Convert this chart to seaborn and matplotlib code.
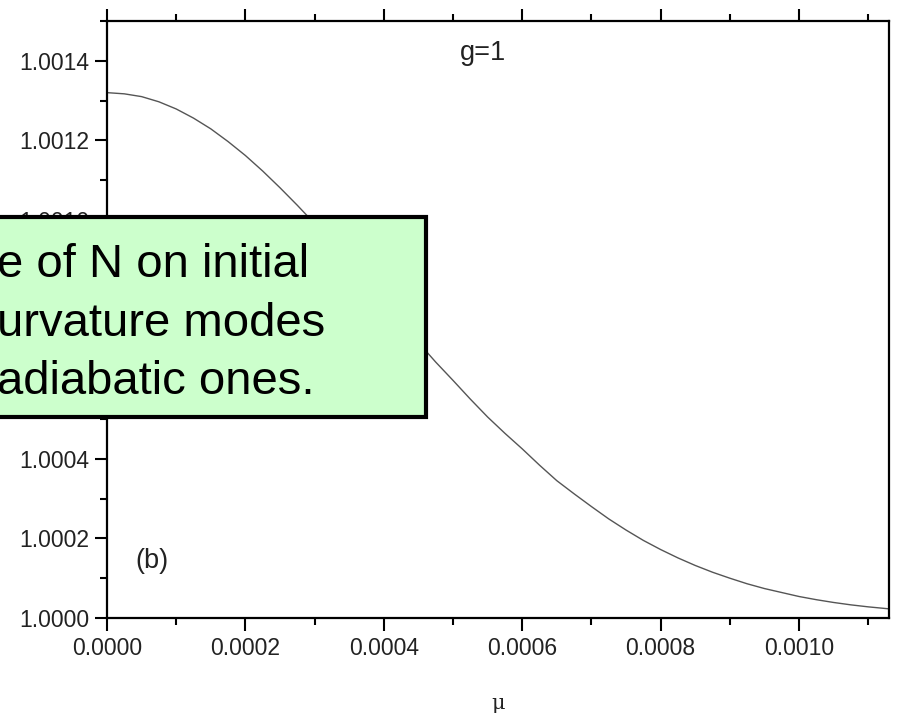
import numpy as np
import pandas as pd
import matplotlib
matplotlib.use("Agg")
import matplotlib.pyplot as plt
from matplotlib.patches import Rectangle
from matplotlib.ticker import MultipleLocator, FormatStrFormatter
import seaborn as sns

# Data
mu = [0.0, 0.000025, 0.00005, 0.000075, 0.0001, 0.000125, 0.00015, 0.000175,
      0.0002, 0.000225, 0.00025, 0.000275, 0.0003, 0.000325, 0.00035, 0.000375,
      0.0004, 0.000425, 0.00045, 0.000475, 0.0005, 0.000525, 0.00055, 0.000575,
      0.0006, 0.000625, 0.00065, 0.000675, 0.0007, 0.000725, 0.00075, 0.000775,
      0.0008, 0.000825, 0.00085, 0.000875, 0.0009, 0.000925, 0.00095, 0.000975,
      0.001, 0.001025, 0.00105, 0.001075, 0.0011, 0.00113]
N_ratio = [1.001320, 1.001317, 1.001310, 1.001297, 1.001279, 1.001256, 1.001229,
           1.001197, 1.001162, 1.001123, 1.001081, 1.001037, 1.000991, 1.000943,
           1.000893, 1.000843, 1.000793, 1.000742, 1.000692, 1.000643, 1.000597,
           1.000550, 1.000505, 1.000464, 1.000425, 1.000384, 1.000345, 1.000312,
           1.000280, 1.000249, 1.000221, 1.000195, 1.000172, 1.000151, 1.000132,
           1.000115, 1.000100, 1.000086, 1.000074, 1.000064, 1.000054, 1.000046,
           1.000039, 1.000033, 1.000028, 1.000023]
xticks = [0.0, 0.0002, 0.0004, 0.0006, 0.0008, 0.0010]
yticks = [1.0000, 1.0002, 1.0004, 1.0006, 1.0008, 1.0010, 1.0012, 1.0014]
box_lines = ["e of N on initial", "urvature modes", "adiabatic ones."]

df = pd.DataFrame({"mu": mu, "N": N_ratio})

sns.set_theme(style="ticks")
plt.rcParams["font.family"] = ["Liberation Sans", "DejaVu Sans"]

W, H = 899, 719
fig = plt.figure(figsize=(W / 100, H / 100), dpi=100)
ax = fig.add_axes([107 / W, 1 - 618 / H, (889 - 107) / W, (618 - 21) / H])

sns.lineplot(data=df, x="mu", y="N", ax=ax, color="#555555", linewidth=1.0)

ax.set_xlim(0, 0.00113)
ax.set_ylim(1.0000, 1.0015)
ax.set_xticks(xticks)
ax.set_yticks(yticks)
ax.xaxis.set_minor_locator(MultipleLocator(0.0001))
ax.yaxis.set_minor_locator(MultipleLocator(0.0001))
ax.xaxis.set_major_formatter(FormatStrFormatter("%.4f"))
ax.yaxis.set_major_formatter(FormatStrFormatter("%.4f"))

for s in ax.spines.values():
    s.set_linewidth(1.6)
    s.set_color("black")

ax.tick_params(axis="both", which="both", direction="out", width=1.5,
               labelsize=16.5, labelcolor="#222222", color="black")
ax.tick_params(axis="both", which="major", length=9)
ax.tick_params(axis="both", which="minor", length=5)
ax.tick_params(axis="x", which="both", top=True, labeltop=False, pad=5)
ax.tick_params(axis="y", which="both", right=False, pad=4)

ax.set_xlabel("μ", fontsize=15, color="#222222", family=["DejaVu Serif"])
ax.xaxis.set_label_coords(0.5, -0.128)
ax.set_ylabel("")

fig.text(460 / W, 1 - 53 / H, "g=1", fontsize=19.5, color="#222222",
         va="center", ha="left")
fig.text(135 / W, 1 - 561 / H, "(b)", fontsize=19.5, color="#222222",
         va="center", ha="left")

# Overlay callout box
rect = Rectangle((-10 / W, 1 - 417 / H), (426 + 10) / W, (417 - 217) / H,
                 transform=fig.transFigure, facecolor="#ccffcc",
                 edgecolor="black", linewidth=3, zorder=10)
fig.patches.append(rect)
baselines = [277, 336, 394]
for line, b in zip(box_lines, baselines):
    fig.text(-3 / W, 1 - b / H, line, fontsize=34, color="black",
             va="baseline", ha="left", zorder=11)

fig.savefig("out.png", dpi=100)
